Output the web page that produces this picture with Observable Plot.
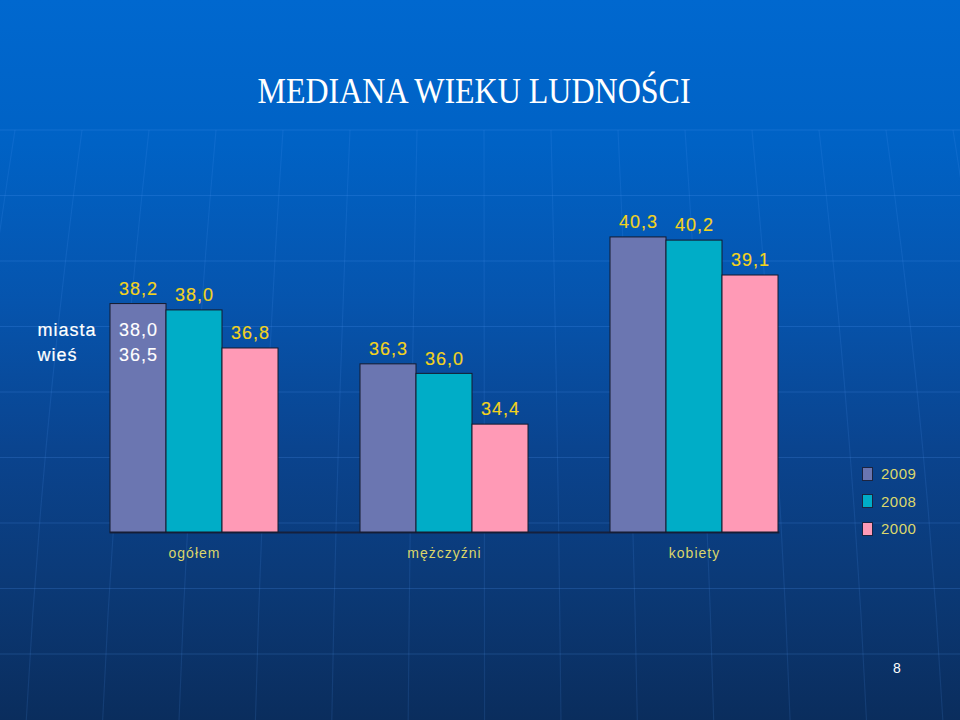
<!DOCTYPE html>
<html>
<head>
<meta charset="utf-8">
<script src="https://cdn.jsdelivr.net/npm/d3@7"></script>
<script src="https://cdn.jsdelivr.net/npm/@observablehq/plot@0.6"></script>
<style>
  html, body { margin: 0; padding: 0; background: #0a2c5c; }
  #page {
    position: relative; width: 960px; height: 720px; overflow: hidden;
    background: linear-gradient(to bottom, #0068cf 0%, #0062c5 20%, #0654ad 42%, #0a448f 62%, #0b3a78 80%, #0a2d5d 100%);
    font-family: "Liberation Sans", Arial, sans-serif;
  }
  #grid { position: absolute; left: 0; top: 0; }
  #title {
    position: absolute; left: 0; width: 948px; top: 71px; text-align: center;
    font-family: "Liberation Serif", "Times New Roman", serif; font-size: 32px; color: #ffffff;
    transform: scaleY(1.12); line-height: 40px; white-space: nowrap;
  }
  #chart { position: absolute; left: 0; top: 140px; }
  #legend { position: absolute; left: 862px; top: 460px; }
  .li { display: flex; align-items: center; height: 27.5px; color: #dcd86c; font-size: 15px; letter-spacing: 0.5px; }
  .sw { width: 9px; height: 12px; border: 1px solid #1c2440; margin-right: 8px; }
  #pagenum { position: absolute; left: 893px; top: 660px; color: #ffffff; font-size: 14px; }
</style>
</head>
<body>
<div id="page">
  <svg id="grid" width="960" height="720"></svg>
  <div id="title"></div>
  <div id="chart"></div>
  <div id="legend"></div>
  <div id="pagenum"></div>
</div>
<script>
// ---- data ----
const titleText = "MEDIANA WIEKU LUDNOŚCI";
const pageNumber = "8";
const categories = ["ogółem", "mężczyźni", "kobiety"];
const years = ["2009", "2008", "2000"];
const values2009 = [38.2, 36.3, 40.3];
const values2008 = [38.0, 36.0, 40.2];
const values2000 = [36.8, 34.4, 39.1];
const noteLabels = ["miasta", "wieś"];
const noteValues = ["38,0", "36,5"];
const colors = ["#6b76b1", "#00adc7", "#ff9ab6"];
const yMin = 31, yMax = 42;

// ---- table built from the arrays ----
const series = [values2009, values2008, values2000];
const data = [];
categories.forEach((c, i) => {
  years.forEach((y, j) => data.push({cat: c, year: y, value: series[j][i]}));
});
const fmt = v => v.toFixed(1).replace(".", ",");

// ---- decorative globe grid in background ----
const grid = d3.select("#grid");
for (let k = 0; k < 9; k++) {
  const yy = 130 + 65.5 * k;
  grid.append("line").attr("x1", 0).attr("x2", 960).attr("y1", yy).attr("y2", yy)
    .attr("stroke", "rgba(90,160,255,0.20)").attr("stroke-width", 1.2);
}
for (let k = 0; k < 15; k++) {
  const x0 = 15 + 67 * k;
  const x1 = x0 + (x0 - 480) * 0.14;
  const xm = (x0 + x1) / 2 + (x0 - 480) * 0.03;
  grid.append("path").attr("d", `M${x0},130 Q${xm},425 ${x1},720`)
    .attr("fill", "none").attr("stroke", "rgba(90,160,255,0.13)").attr("stroke-width", 1.2);
}

// ---- texts ----
document.getElementById("title").textContent = titleText;
document.getElementById("pagenum").textContent = pageNumber;
const legend = d3.select("#legend");
years.forEach((y, j) => {
  const row = legend.append("div").attr("class", "li");
  row.append("div").attr("class", "sw").style("background", colors[j]);
  row.append("span").text(y);
});

// ---- chart ----
const noteMarks = [];
noteLabels.forEach((lab, i) => {
  noteMarks.push(Plot.text([lab], {
    fx: () => categories[0], x: () => years[0], y: () => values2009[0],
    text: d => d, textAnchor: "start", dx: -101, dy: 26 + 25 * i,
    fill: "#ffffff", stroke: "#ffffff", strokeWidth: 0.2, fontSize: 18
  }));
  noteMarks.push(Plot.text([noteValues[i]], {
    fx: () => categories[0], x: () => years[0], y: () => values2009[0],
    text: d => d, dy: 26 + 25 * i, dx: 0,
    fill: "#ffffff", stroke: "#ffffff", strokeWidth: 0.12, fontSize: 18
  }));
});

const chart = Plot.plot({
  width: 960, height: 460,
  marginTop: 43, marginBottom: 68, marginLeft: 73, marginRight: 137,
  style: {background: "transparent", overflow: "visible", fontFamily: "Liberation Sans, Arial, sans-serif", letterSpacing: "1px"},
  fx: {domain: categories, axis: null, paddingInner: 0.328, paddingOuter: 0.164, align: 0.45},
  x: {domain: years, axis: null, padding: 0},
  y: {domain: [yMin, yMax], axis: null},
  color: {domain: years, range: colors},
  marks: [
    Plot.frame({facet: "super", anchor: "bottom", stroke: "#16203c", strokeWidth: 1.8}),
    Plot.barY(data, {fx: "cat", x: "year", y1: yMin, y2: "value", fill: "year", stroke: "#151a2e", strokeWidth: 1}),
    Plot.text(data, {fx: "cat", x: "year", y: "value", text: d => fmt(d.value), dy: -15, fill: "#f3d31c", stroke: "#f3d31c", strokeWidth: 0.15, fontSize: 18}),
    Plot.text(categories, {fx: d => d, text: d => d, frameAnchor: "bottom", dy: 25, fill: "#dcd56a", fontSize: 14}),
    ...noteMarks
  ]
});
document.getElementById("chart").appendChild(chart);
</script>
</body>
</html>
